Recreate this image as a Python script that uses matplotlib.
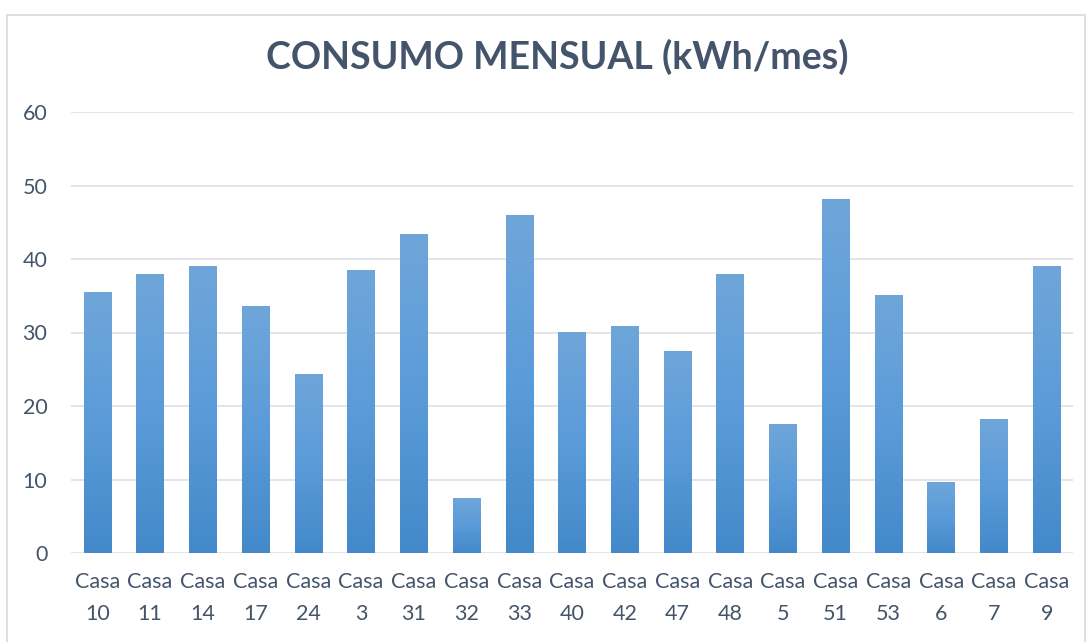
import matplotlib
matplotlib.use("Agg")
import matplotlib.pyplot as plt
import numpy as np
from matplotlib.patches import Rectangle
from matplotlib.colors import LinearSegmentedColormap

categories = ["Casa\n10", "Casa\n11", "Casa\n14", "Casa\n17", "Casa\n24", "Casa\n3", "Casa\n31",
              "Casa\n32", "Casa\n33", "Casa\n40", "Casa\n42", "Casa\n47", "Casa\n48", "Casa\n5",
              "Casa\n51", "Casa\n53", "Casa\n6", "Casa\n7", "Casa\n9"]
values = [35.5, 38.0, 39.0, 33.6, 24.4, 38.5, 43.4, 7.5, 46.0, 30.1, 30.9, 27.5, 38.0, 17.6,
          48.2, 35.1, 9.7, 18.2, 39.0]
yticks = [0, 10, 20, 30, 40, 50, 60]

plt.rcParams['font.family'] = ['Lato', 'DejaVu Sans']
W, H = 1090, 642
fig = plt.figure(figsize=(W / 100, H / 100), dpi=100)
fig.patch.set_facecolor("white")

# chart border
fig.patches.append(Rectangle((7 / W, -0.01), (1085 - 7) / W, 1 - 15 / H + 0.01,
                             transform=fig.transFigure, fill=False,
                             edgecolor="#d9d9d9", linewidth=1.2))

ax = fig.add_axes([71 / W, 1 - 553 / H, (1073 - 71) / W, (553 - 112) / H])
x = np.arange(len(categories))
bars = ax.bar(x, values, width=0.52, color="#5b9bd5", zorder=2)

# vertical gradient per bar
grad = np.linspace(0, 1, 256).reshape(-1, 1)
cmap = LinearSegmentedColormap.from_list("g", ["#4389c9", "#5b9bd9", "#6fa6d9"])
for b in bars:
    bx, by = b.get_x(), b.get_y()
    bw, bh = b.get_width(), b.get_height()
    im = ax.imshow(grad, cmap=cmap, origin="lower", aspect="auto",
                   extent=[bx, bx + bw, by, by + bh], zorder=3)
    im.set_clip_path(b)
    b.set_facecolor("none")

ax.set_xlim(-0.5, len(categories) - 0.5)
ax.set_ylim(0, 60)
ax.set_yticks(yticks)
ax.set_xticks(x)
ax.set_xticklabels(categories, fontsize=15.5, color="#44546a", linespacing=1.75)
ax.tick_params(axis="y", labelsize=15.5, labelcolor="#44546a", length=0, pad=17)
ax.tick_params(axis="x", length=0, pad=14)
ax.grid(axis="y", color="#e0e3e8", linewidth=1.3, zorder=0)
for s in ax.spines.values():
    s.set_visible(False)
ax.set_axisbelow(True)

fig.text(0.511, 1 - 57 / H, "CONSUMO MENSUAL (kWh/mes)", ha="center", va="center",
         fontsize=27, fontweight="bold", color="#44546a")

fig.savefig("out.png", dpi=100, facecolor="white")
